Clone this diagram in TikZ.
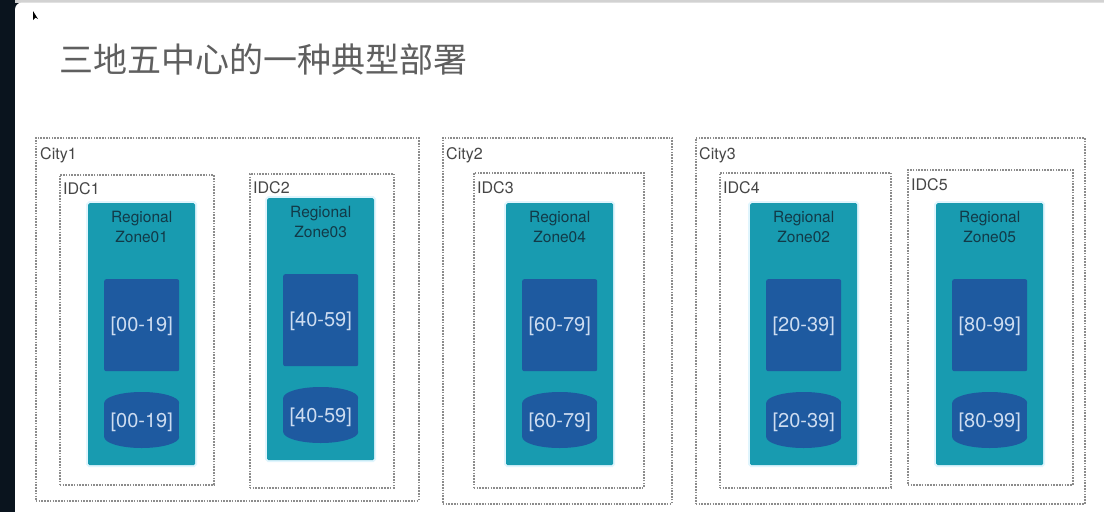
\documentclass[tikz,border=0pt]{standalone}
\usepackage{fontspec}
\setmainfont{TeX Gyre Heros}
\newfontfamily\cjk{Noto Sans CJK SC}
\usetikzlibrary{calc}
\definecolor{teala}{RGB}{24,155,176}
\definecolor{bluea}{RGB}{30,90,160}
\definecolor{zonetxt}{RGB}{18,58,72}
\definecolor{rangetxt}{RGB}{205,220,240}
\definecolor{dashgray}{RGB}{140,140,140}
\definecolor{labelgray}{RGB}{70,70,70}
\definecolor{titlegray}{RGB}{95,95,95}
\definecolor{edgedark}{RGB}{10,20,30}
\tikzset{
  dbox/.style={draw=dashgray, line width=1.5pt, dash pattern=on 1.6pt off 1.2pt, anchor=north west, inner sep=0, fill=none},
  lbl/.style={anchor=west, inner sep=0, text=labelgray, font=\fontsize{16}{18}\selectfont},
  zone/.style={fill=teala, draw=none, rounded corners=1.5pt, inner sep=0, anchor=north west,
    minimum width=107pt, minimum height=262pt, preaction={draw=cyan!12, line width=4pt, rounded corners=2pt}},
  sqbox/.style={fill=bluea, draw=none, rounded corners=2pt, inner sep=0, anchor=north, minimum width=75pt, minimum height=92pt},
  rng/.style={inner sep=0, text=rangetxt, font=\fontsize{20}{22}\selectfont},
  ztxt/.style={inner sep=0, text=zonetxt, align=center, font=\fontsize{15.5}{20}\selectfont},
}
\newcommand\zonebox[5]{%
  \node[zone] (#1) at (#2,#3) {};
  \node[ztxt] (#1t) at ($(#1.north)+(0,24)$) {Regional\\Zone#4};
  \node[sqbox] (#1sq) at ($(#1.north)+(0,76)$) {};
  \node[rng] (#1sqt) at ($(#1.north)+(0,123)$) {#5};
  \fill[bluea] ($(#1.north)+(-37.5,200)$) rectangle ($(#1.north)+(37.5,234)$);
  \fill[bluea] ($(#1.north)+(0,200)$) ellipse [x radius=37.5, y radius=11];
  \fill[bluea] ($(#1.north)+(0,234)$) ellipse [x radius=37.5, y radius=11];
  \node[rng] (#1cy) at ($(#1.north)+(0,219)$) {#5};
}
\begin{document}
\begin{tikzpicture}[x=1pt,y=-1pt]
\useasboundingbox (0,0) rectangle (1104,512);
\fill[edgedark] (0,0) rectangle (1104,512);
\fill[gray!35] (15,0) rectangle (1104,2.5);
\fill[white] (15,512) [rounded corners=7pt] -- (15,2.5) [sharp corners] -- (1104,2.5) -- (1104,512) -- cycle;
\fill[black] (33,11) -- (33,20) -- (35.5,17.5) -- (38,19) -- cycle;

\node[anchor=west, inner sep=0, text=titlegray, font=\cjk\fontsize{34}{36}\selectfont] (title) at (59,60) {三地五中心的一种典型部署};

% City boxes
\node[dbox, minimum width=383pt, minimum height=363pt] (city1) at (35,137) {};
\node[dbox, minimum width=229pt, minimum height=366pt] (city2) at (442,137) {};
\node[dbox, minimum width=389pt, minimum height=366pt] (city3) at (695,137) {};
% IDC boxes
\node[dbox, minimum width=154pt, minimum height=310pt] (idc1) at (59,174) {};
\node[dbox, minimum width=144pt, minimum height=314pt] (idc2) at (249,173) {};
\node[dbox, minimum width=170pt, minimum height=315pt] (idc3) at (473,172) {};
\node[dbox, minimum width=171pt, minimum height=315pt] (idc4) at (719,172) {};
\node[dbox, minimum width=165pt, minimum height=315pt] (idc5) at (907,169) {};

\node[lbl] (city1l) at (40,155) {City1};
\node[lbl] (city2l) at (446,155) {City2};
\node[lbl] (city3l) at (699,155) {City3};
\node[lbl] (idc1l) at (63,189) {IDC1};
\node[lbl] (idc2l) at (253,188) {IDC2};
\node[lbl] (idc3l) at (477,188) {IDC3};
\node[lbl] (idc4l) at (723,188) {IDC4};
\node[lbl] (idc5l) at (911,185) {IDC5};

\zonebox{za}{88}{203}{01}{[00-19]}
\zonebox{zb}{267}{198}{03}{[40-59]}
\zonebox{zc}{506}{203}{04}{[60-79]}
\zonebox{zd}{750}{203}{02}{[20-39]}
\zonebox{ze}{936}{203}{05}{[80-99]}
\end{tikzpicture}
\end{document}
